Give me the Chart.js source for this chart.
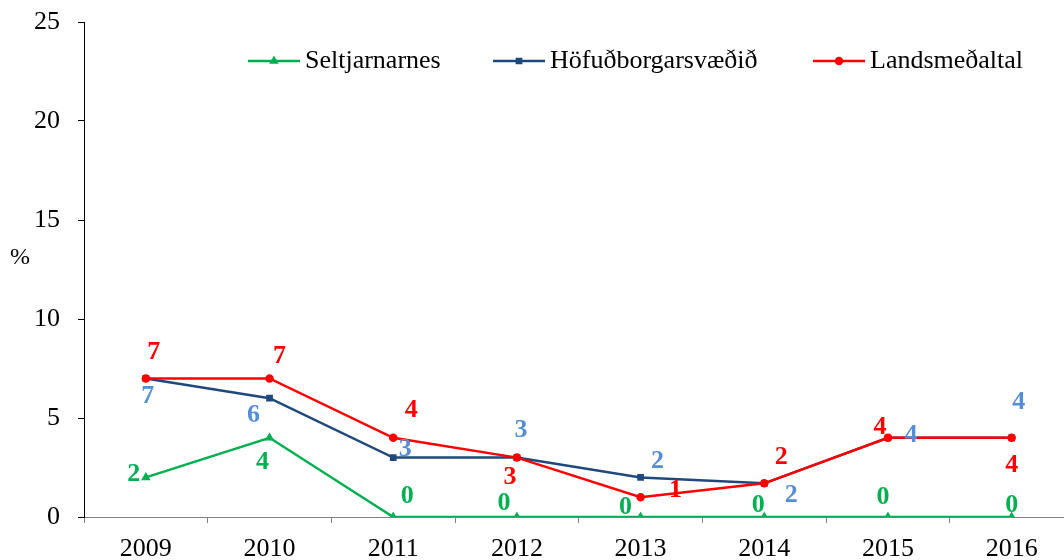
<!DOCTYPE html>
<html>
<head>
<meta charset="utf-8">
<style>
  html, body { margin: 0; padding: 0; background: #fff; overflow: hidden; width: 1064px; height: 560px; }
  #wrap { width: 1080px; height: 560px; }
</style>
<script src="https://cdn.jsdelivr.net/npm/chart.js@4.4.0/dist/chart.umd.min.js"></script>
</head>
<body>
<div id="wrap"><canvas id="chart" width="1080" height="560"></canvas></div>
<script>
// ---- data ----
const years          = ['2009', '2010', '2011', '2012', '2013', '2014', '2015', '2016'];
const seltjarnarnes  = [2, 4, 0, 0, 0, 0, 0, 0];
const hofudborg      = [7, 6, 3, 3, 2, 1.7, 4, 4];
const landsmedaltal  = [7, 7, 4, 3, 1, 1.7, 4, 4];
const yTicks         = [0, 5, 10, 15, 20, 25];
const seriesNames    = ['Seltjarnarnes', 'Höfuðborgarsvæðið', 'Landsmeðaltal'];

const SERIF = "'Liberation Serif', 'Times New Roman', serif";

// label nudges (px from point), per series, per point
const labelNudge = [
  [[-12,-3],[-7,24],[14,-21],[-13,-14],[-15,-10],[-6,-12],[-5,-20],[0,-12]],
  [[2,18],[-16,17],[12,-8],[4,-27],[17,-16],[27,12],[23,-3],[7,-36]],
  [[8,-26],[10,-22],[18,-28],[-7,20],[35,-7],[17,-26],[-8,-11],[0,27]]
];
const labelColors = ['#00b050', '#558ed5', '#ff0000'];
const legendX = [248, 493, 813];

const valueLabels = {
  id: 'valueLabels',
  afterDatasetsDraw(chart) {
    const ctx = chart.ctx;
    ctx.save();
    ctx.font = 'bold 26px ' + SERIF;
    ctx.textAlign = 'center';
    ctx.textBaseline = 'middle';
    chart.data.datasets.forEach((ds, di) => {
      const meta = chart.getDatasetMeta(di);
      ctx.fillStyle = labelColors[di];
      meta.data.forEach((pt, i) => {
        const n = labelNudge[di][i];
        ctx.fillText(String(Math.round(ds.data[i])), pt.x + n[0], pt.y + n[1]);
      });
    });
    ctx.restore();
  },
  afterDraw(chart) {
    const ctx = chart.ctx;
    ctx.save();
    // legend
    chart.data.datasets.forEach((ds, di) => {
      const x = legendX[di], y = 61;
      ctx.strokeStyle = ds.borderColor;
      ctx.lineWidth = 2.5;
      ctx.beginPath(); ctx.moveTo(x, y); ctx.lineTo(x + 52, y); ctx.stroke();
      ctx.fillStyle = ds.borderColor;
      Chart.helpers.drawPoint(ctx, { pointStyle: ds.pointStyle, radius: 3, rotation: 0, borderWidth: 1 }, x + 26, y);
      ctx.fillStyle = '#000';
      ctx.font = '26px ' + SERIF;
      ctx.textAlign = 'left';
      ctx.textBaseline = 'middle';
      ctx.fillText(ds.label, x + 57, y);
    });
    // y axis title
    ctx.font = '24px ' + SERIF;
    ctx.textAlign = 'center';
    ctx.fillStyle = '#000';
    ctx.fillText('%', 20, 258);
    ctx.restore();
  }
};

function series(i, data, color, style, order) {
  return {
    label: seriesNames[i], data,
    borderColor: color, backgroundColor: color,
    borderWidth: 2.5, pointStyle: style, pointRadius: 3,
    pointBorderColor: color, pointBackgroundColor: color,
    tension: 0, order
  };
}

new Chart(document.getElementById('chart'), {
  type: 'line',
  data: {
    labels: years,
    datasets: [
      series(0, seltjarnarnes, '#00b050', 'triangle', 2),
      series(1, hofudborg, '#1f497d', 'rect', 1),
      series(2, landsmedaltal, '#ff0000', 'circle', 0)
    ]
  },
  options: {
    responsive: false, animation: false,
    layout: { padding: { top: 22, right: 0, left: 0, bottom: 0 } },
    plugins: { legend: { display: false }, tooltip: { enabled: false } },
    scales: {
      x: {
        offset: true,
        grid: { offset: true, drawOnChartArea: false, tickLength: 6, color: '#808080' },
        border: { color: '#808080', width: 1 },
        ticks: { color: '#000', font: { family: SERIF, size: 26 }, padding: 11 },
        afterFit: s => { s.height = 43; s.paddingLeft = 0; s.paddingRight = 0; }
      },
      y: {
        min: 0, max: 25,
        afterBuildTicks: s => { s.ticks = yTicks.map(v => ({ value: v })); },
        grid: { drawOnChartArea: false, tickLength: 6, color: '#000' },
        border: { color: '#000', width: 1 },
        ticks: { color: '#000', font: { family: SERIF, size: 26 }, padding: 18 },
        afterFit: s => { s.width = 84; s.paddingTop = 0; s.paddingBottom = 0; }
      }
    }
  },
  plugins: [valueLabels]
});
</script>
</body>
</html>
